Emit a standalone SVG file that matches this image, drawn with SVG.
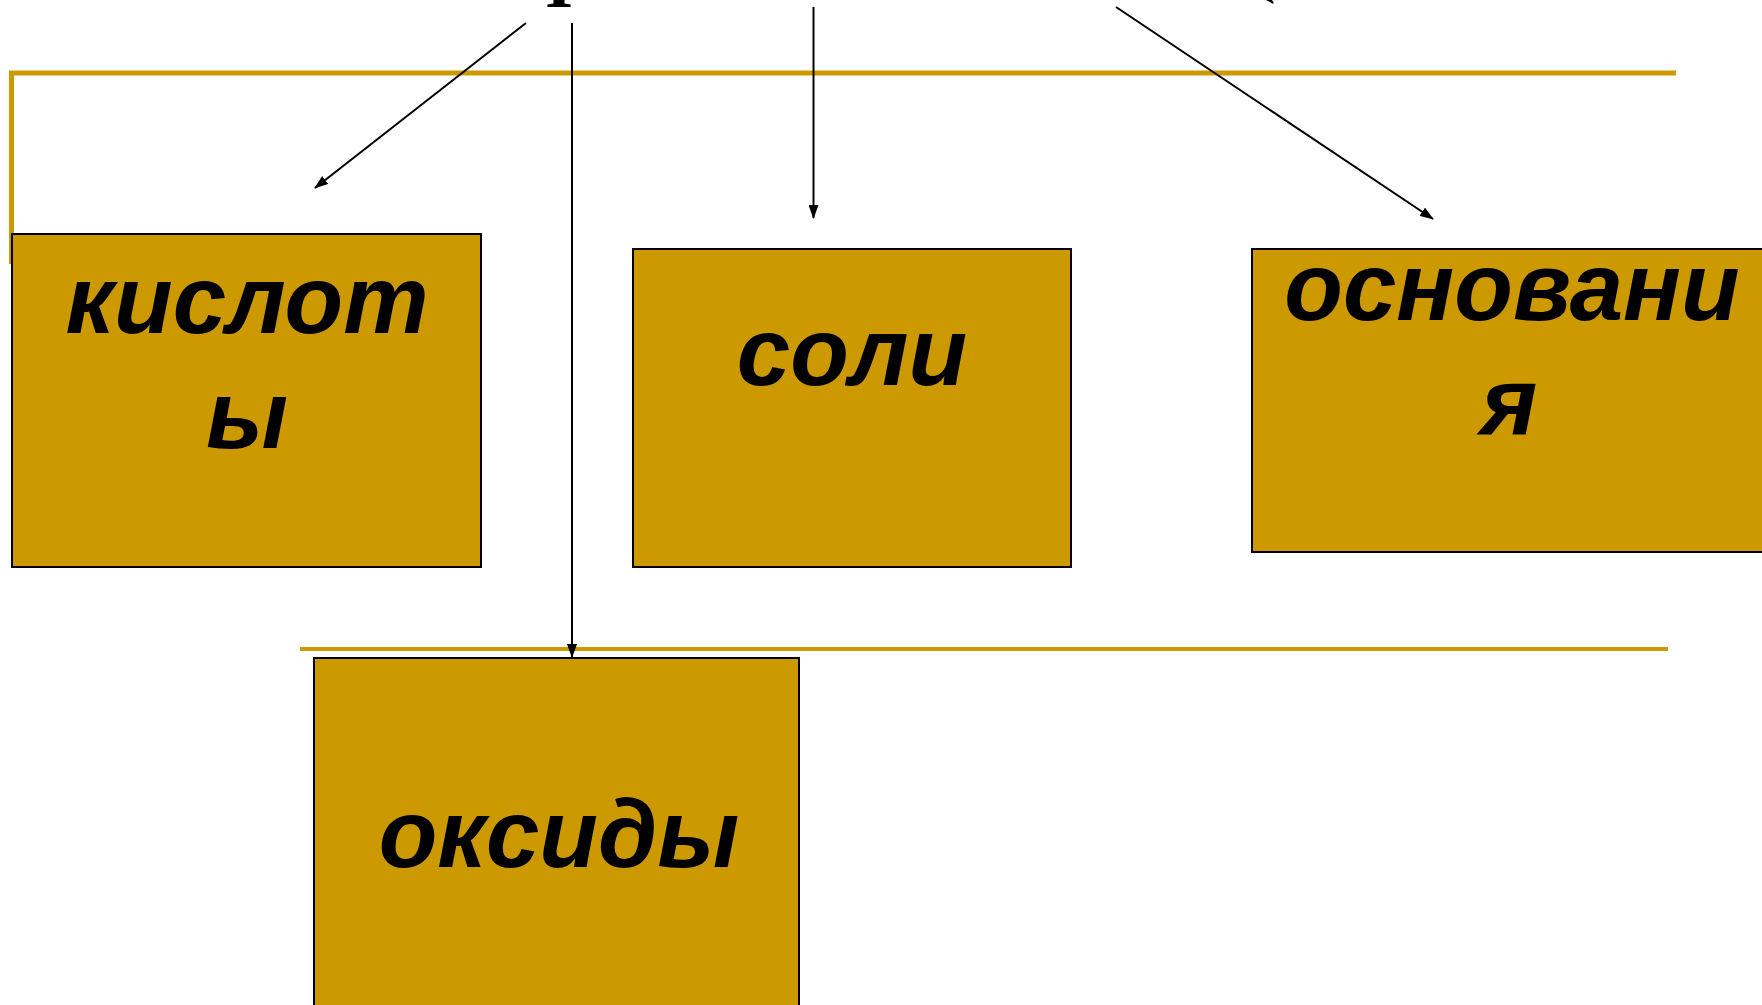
<svg xmlns="http://www.w3.org/2000/svg" width="1762" height="1005" viewBox="0 0 1762 1005">
<style>
.box{fill:#CC9900;stroke:#000;stroke-width:2}
.lbl{font-family:"Liberation Sans",Arial,sans-serif;font-weight:bold;font-style:italic;font-size:96px;fill:#000;text-anchor:middle}
.frag{font-family:"Liberation Serif","Times New Roman",serif;font-weight:bold;font-size:72px;fill:#000;text-anchor:middle}
.gold{fill:none;stroke:#CC9900;stroke-width:5}
.gold2{fill:none;stroke:#CC9900;stroke-width:4}
.conn{fill:none;stroke:#000;stroke-width:2;marker-end:url(#ah)}
</style>
<defs>
<marker id="ah" markerUnits="userSpaceOnUse" markerWidth="14" markerHeight="10" refX="13" refY="5" orient="auto">
<path d="M0,0 L14,5 L0,10 z" fill="#000"/>
</marker>
</defs>
<rect width="1762" height="1005" fill="#fff"/>
<g id="decor">
<path class="gold" d="M11.5,264 L11.5,73 L1676,73"/>
<line class="gold2" x1="300" y1="649" x2="1668" y2="649"/>
</g>
<text id="title-fragment" class="frag" x="559" y="7">I</text>
<g id="connectors">
<line class="conn" x1="526" y1="23" x2="315" y2="188"/>
<line class="conn" x1="572" y1="23" x2="572" y2="657"/>
<line class="conn" x1="813.5" y1="7" x2="813.5" y2="218"/>
<line class="conn" x1="1116" y1="7" x2="1433" y2="219"/>
<line class="conn" x1="1252" y1="-18" x2="1273" y2="3"/>
</g>
<g id="node-kisloty">
<rect class="box" x="12" y="234" width="469" height="333"/>
<text class="lbl" x="247" y="333">кислот</text>
<text class="lbl" x="247" y="448">ы</text>
</g>
<g id="node-soli">
<rect class="box" x="633" y="249" width="438" height="318"/>
<text class="lbl" x="852" y="385">соли</text>
</g>
<g id="node-osnovaniya">
<rect class="box" x="1252" y="249" width="520" height="303"/>
<text class="lbl" x="1512" y="320">основани</text>
<text class="lbl" x="1509" y="435">я</text>
</g>
<g id="node-oksidy">
<rect class="box" x="314" y="658" width="485" height="360"/>
<text class="lbl" x="559" y="867">оксиды</text>
</g>
</svg>
